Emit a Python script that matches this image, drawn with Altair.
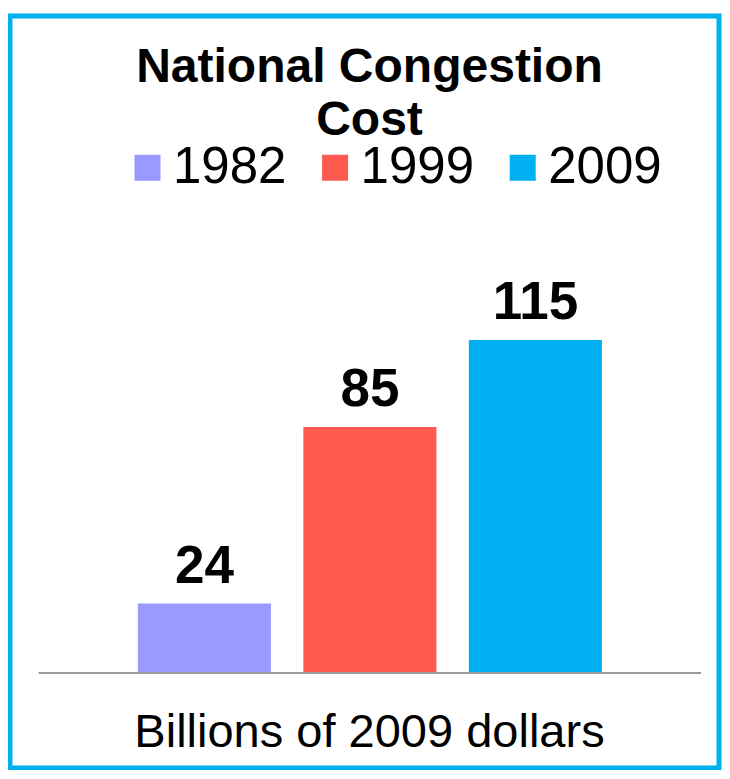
import altair as alt
import pandas as pd

# ---- data ----
years = ["1982", "1999", "2009"]
costs = [24, 85, 115]
colors = ["#9999FF", "#FF5A4F", "#00B0F0"]
title_text = "National Congestion\nCost"
unit_text = "Billions of 2009 dollars"

FONT = "Liberation Sans"

df = pd.DataFrame({"year": years, "cost": costs})

x_enc = alt.X("year:N", sort=years, axis=None,
              scale=alt.Scale(paddingInner=0.196, paddingOuter=0.74, align=0.522))
y_scale = alt.Scale(domain=[-32.8, 226.9], nice=False, zero=False)

bars = alt.Chart(df).mark_bar().encode(
    x=x_enc,
    y=alt.Y("cost:Q", axis=None, scale=y_scale),
    color=alt.Color(
        "year:N",
        scale=alt.Scale(domain=years, range=colors),
        legend=alt.Legend(
            orient="none", legendX=112, legendY=126, direction="horizontal",
            title=None, symbolType="square", symbolSize=676,
            symbolStrokeWidth=0, symbolOpacity=1, labelFontSize=51,
            labelFont=FONT, labelColor="black", labelOffset=0,
            columnPadding=22.6, padding=0,
        ),
    ),
)

labels = alt.Chart(df).mark_text(
    font=FONT, fontSize=53, fontWeight="bold", color="black",
    baseline="alphabetic", dy=-21,
).encode(
    x=x_enc,
    y=alt.Y("cost:Q", axis=None, scale=y_scale),
    text=alt.Text("cost:Q"),
)

one = pd.DataFrame({"k": [0], "title": [title_text], "unit": [unit_text]})

baseline = alt.Chart(one).mark_rule(color="#999999", strokeWidth=2).encode(
    y=alt.Y("k:Q", axis=None, scale=y_scale),
    x=alt.value(28.6),
    x2=alt.value(691),
)

title = alt.Chart(one).mark_text(
    font=FONT, fontSize=48, fontWeight="bold", color="black",
    baseline="alphabetic", align="center", lineHeight=53, lineBreak="\n",
).encode(
    x=alt.value(359.5), y=alt.value(65.7), text="title:N",
)

unit = alt.Chart(one).mark_text(
    font=FONT, fontSize=47, color="black", baseline="alphabetic", align="center",
).encode(
    x=alt.value(359.5), y=alt.value(730.7), text="unit:N",
)

chart = alt.layer(bars, baseline, labels, title, unit).properties(
    width=709,
    height=752,
    padding={"left": 2, "top": 8, "right": 3, "bottom": 2},
    autosize=alt.AutoSizeParams(type="none"),
    background="white",
).configure_view(
    stroke="#00B0F0", strokeWidth=5,
)

chart.save("out.html", embed_options={"renderer": "svg", "actions": False})
